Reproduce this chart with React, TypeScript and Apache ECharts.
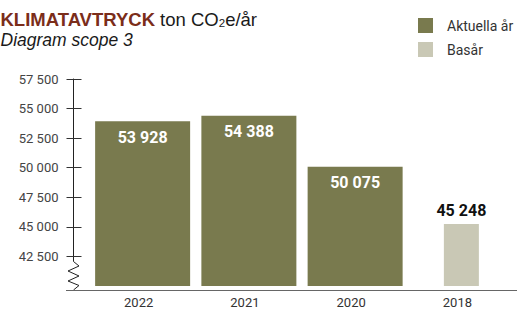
import React, { useEffect, useRef } from "react";
import * as echarts from "echarts";

const categories = ["2022", "2021", "2020", "2018"];
const currentValues = [53928, 54388, 50075, null];
const baseValues = [null, null, null, 45248];
const seriesNames = ["Aktuella år", "Basår"];
const yMin = 40000;
const yMax = 57500;
const yInterval = 2500;

const fmt = (v: number) => String(v).replace(/\B(?=(\d{3})+(?!\d))/g, " ");
const TITLE_FONT = "'Liberation Sans', Arial, sans-serif";

export default function App() {
  const ref = useRef<HTMLDivElement>(null);
  useEffect(() => {
    const chart = echarts.init(ref.current!, null, { renderer: "svg" });
    const yCommon = {
      type: "value",
      min: yMin,
      max: yMax,
      interval: yInterval,
      position: "left",
      offset: 16,
      splitLine: { show: false },
    };
    chart.setOption({
      animation: false,
      textStyle: { fontFamily: "Roboto" },
      grid: { left: 89.5, width: 425, top: 79, height: 211 },
      legend: {
        data: seriesNames,
        orient: "vertical",
        left: 413,
        top: 13,
        itemWidth: 15,
        itemHeight: 15,
        itemGap: 9,
        icon: "rect",
        textStyle: { fontSize: 14, color: "#333", padding: [0, 0, 0, 9] },
      },
      xAxis: [
        {
          type: "category",
          data: categories,
          position: "bottom",
          axisLine: { show: false },
          axisTick: { show: false },
          axisLabel: { fontSize: 13, color: "#333", margin: 10, padding: [0, 8, 0, 0] },
        },
        { type: "category", data: categories, position: "bottom", show: false },
      ],
      yAxis: [
        {
          ...yCommon,
          axisLine: { show: true, lineStyle: { color: "#222", width: 1 } },
          axisTick: { show: true, length: 7, lineStyle: { color: "#333" } },
          axisLabel: {
            fontSize: 13,
            color: "#444",
            margin: 15,
            formatter: (v: number) => (v === yMin ? "" : fmt(v)),
          },
        },
        {
          ...yCommon,
          axisLine: { show: false },
          axisTick: { show: true, inside: true, length: 8, lineStyle: { color: "#333" } },
          axisLabel: { show: false },
        },
      ],
      series: [
        {
          name: seriesNames[0],
          type: "bar",
          xAxisIndex: 0,
          yAxisIndex: 0,
          barWidth: 95,
          data: currentValues,
          itemStyle: { color: "#797a4e" },
          label: {
            show: true,
            position: "insideTop",
            distance: 8,
            color: "#fff",
            fontSize: 16,
            fontWeight: "bold",
            formatter: (p: any) => fmt(p.value),
          },
        },
        {
          name: seriesNames[1],
          type: "bar",
          xAxisIndex: 1,
          yAxisIndex: 0,
          barWidth: 35,
          data: baseValues,
          itemStyle: { color: "#c9c8b5" },
          label: {
            show: true,
            position: "top",
            distance: 5,
            color: "#111",
            fontSize: 16,
            fontWeight: "bold",
            formatter: (p: any) => fmt(p.value),
          },
        },
      ],
      graphic: [
        {
          type: "text",
          x: 0.5,
          y: 19.6,
          z: 60,
          style: {
            text: "{b|KLIMATAVTRYCK}{n| ton CO}{s|2}{n|e/år}",
            verticalAlign: "middle",
            align: "left",
            rich: {
              b: { fontFamily: TITLE_FONT, fontSize: 18.5, fontWeight: "bold", fill: "#7b2d1a", lineHeight: 19 },
              n: { fontFamily: TITLE_FONT, fontSize: 18.5, fill: "#1a1a1a", lineHeight: 19 },
              s: { fontFamily: TITLE_FONT, fontSize: 11.5, fill: "#1a1a1a", lineHeight: 5, verticalAlign: "bottom" },
            },
          },
        },
        {
          type: "text",
          x: 0.5,
          y: 40,
          z: 60,
          style: {
            text: "Diagram scope 3",
            fontFamily: TITLE_FONT,
            fontSize: 17.5,
            fontStyle: "italic",
            fill: "#1a1a1a",
            verticalAlign: "middle",
            align: "left",
            lineHeight: 14,
          },
        },
        {
          type: "rect",
          z: 50,
          shape: { x: 64, y: 261.5, width: 19, height: 28.5 },
          style: { fill: "#fff" },
        },
        {
          type: "polyline",
          z: 51,
          shape: {
            points: [
              [73.5, 261.5],
              [79, 266],
              [68, 271],
              [79, 276],
              [68, 281],
              [79, 285.5],
              [73.5, 290],
            ],
          },
          style: { stroke: "#222", lineWidth: 1, fill: null },
        },
        {
          type: "line",
          z: 51,
          shape: { x1: 66, y1: 290.5, x2: 517, y2: 290.5 },
          style: { stroke: "#666", lineWidth: 1 },
        },
      ],
    });
    return () => chart.dispose();
  }, []);
  return (
    <div
      ref={ref}
      style={{ position: "fixed", left: 0, top: 0, width: 517, height: 309, background: "#fff" }}
    />
  );
}
